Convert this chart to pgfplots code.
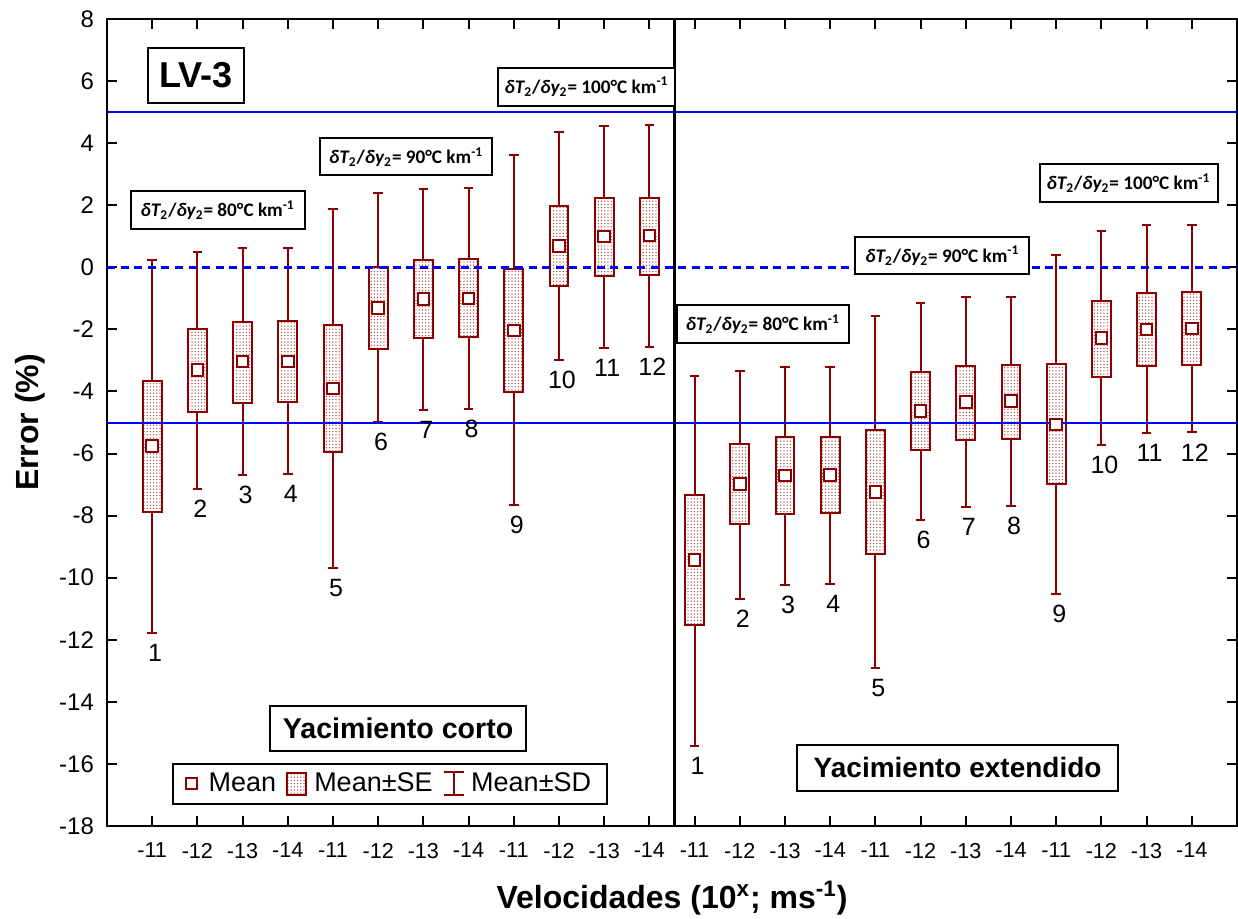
\documentclass[border=0pt]{standalone}
\usepackage{fontspec}
\setmainfont{Liberation Sans}
\newfontfamily\calib{Carlito}
\usepackage{pgfplots}
\pgfplotsset{compat=1.18}
\usepgfplotslibrary{statistics}
\usetikzlibrary{patterns.meta}
\definecolor{dred}{HTML}{8B0000}
\definecolor{pblue}{HTML}{0000FF}
\tikzdeclarepattern{
  name=fdots,
  type=uncolored,
  bounding box={(-0.5pt,-0.5pt) and (0.5pt,0.5pt)},
  tile size={(1.6pt,1.6pt)},
  code={\pgfpathcircle{\pgfpointorigin}{0.33pt}\pgfusepath{fill}}
}
\newcommand{\bx}[6]{\addplot[dred, line width=1pt, boxplot prepared={draw position=#1, lower whisker=#2, lower quartile=#3, median=#4, upper quartile=#5, upper whisker=#6}] coordinates {};}
\newcommand{\lab}[3]{\node[font=\fontsize{12.5}{14}\selectfont, xshift=1.5pt, yshift=-10pt] at (axis cs:#1,#2) {#3};}
\newcommand{\grad}[1]{\calib\bfseries\fontsize{9.6}{11}\selectfont{\itshape δT}\textsubscript{2}/{\itshape δy}\textsubscript{2}= #1°C km\textsuperscript{-1}}
\begin{document}
\begin{tikzpicture}
\begin{axis}[
  scale only axis, width=565pt, height=403.5pt,
  xmin=0, xmax=25, ymin=-18, ymax=8,
  xtick={1,...,24},
  xticklabels={-11,-12,-13,-14,-11,-12,-13,-14,-11,-12,-13,-14,-11,-12,-13,-14,-11,-12,-13,-14,-11,-12,-13,-14},
  ytick={-18,-16,...,8},
  tick align=inside, major tick length=5pt,
  tick style={black, line width=1pt},
  axis line style={line width=1pt},
  /pgf/number format/assume math mode=true,
  xticklabel style={font=\fontsize{10.8}{12}\selectfont, yshift=-5pt},
  yticklabel style={font=\fontsize{12}{14}\selectfont, xshift=-3pt},
  xlabel={\textbf{Velocidades (10\textsuperscript{x}; ms\textsuperscript{-1})}},
  ylabel={\textbf{Error (\%)}},
  xlabel style={font=\fontsize{16}{18}\selectfont, at={(axis description cs:0.5,0)}, anchor=center, yshift=-36pt},
  ylabel style={font=\fontsize{16}{18}\selectfont, at={(axis description cs:0,0.5)}, anchor=center, yshift=38.5pt},
  boxplot/draw direction=y,
  boxplot/box extend=0.42,
  boxplot/whisker extend=0.21,
  boxplot/draw/median/.code={},
  boxplot/every box/.style={draw=dred, line width=1pt, pattern=fdots, pattern color=dred!80},
  boxplot/every whisker/.style={dred, line width=1pt},
  legend columns=3,
  legend cell align=left,
  legend style={at={(axis cs:6.26,-16.64)}, anchor=center, draw=black, line width=1pt,
    font=\fontsize{13.5}{15}\selectfont, inner xsep=6pt, inner ysep=2.5pt,
    /tikz/every even column/.append style={column sep=3pt}},
]
\addlegendimage{legend image code/.code={\draw[dred, line width=0.9pt, fill=white] (0pt,-2.8pt) rectangle (5.6pt,2.8pt); \path (9pt,0pt);}}
\addlegendentry{Mean}
\addlegendimage{legend image code/.code={\draw[dred, line width=1pt, pattern=fdots, pattern color=dred!80] (0pt,-5.4pt) rectangle (9.4pt,5.4pt); \path (11pt,0pt);}}
\addlegendentry{Mean±SE}
\addlegendimage{legend image code/.code={\draw[dred, line width=1pt] (0pt,5.8pt) -- (10pt,5.8pt) (5pt,5.8pt) -- (5pt,-5.8pt) (0pt,-5.8pt) -- (10pt,-5.8pt); \path (11.3pt,0pt);}}
\addlegendentry{Mean±SD}
% short reservoir
\bx{1}{-11.78}{-7.88}{-5.75}{-3.66}{0.24}
\bx{2}{-7.14}{-4.66}{-3.31}{-1.99}{0.50}
\bx{3}{-6.69}{-4.36}{-3.04}{-1.77}{0.61}
\bx{4}{-6.66}{-4.33}{-3.04}{-1.73}{0.61}
\bx{5}{-9.69}{-5.95}{-3.90}{-1.87}{1.87}
\bx{6}{-4.97}{-2.64}{-1.32}{0.00}{2.40}
\bx{7}{-4.59}{-2.29}{-1.03}{0.24}{2.53}
\bx{8}{-4.55}{-2.26}{-1.00}{0.27}{2.57}
\bx{9}{-7.66}{-4.01}{-2.04}{-0.04}{3.61}
\bx{10}{-2.99}{-0.59}{0.69}{1.98}{4.35}
\bx{11}{-2.60}{-0.29}{0.99}{2.24}{4.56}
\bx{12}{-2.56}{-0.26}{1.03}{2.24}{4.60}
% extended reservoir
\bx{13}{-15.42}{-11.53}{-9.43}{-7.35}{-3.50}
\bx{14}{-10.68}{-8.28}{-6.99}{-5.69}{-3.33}
\bx{15}{-10.24}{-7.96}{-6.71}{-5.48}{-3.22}
\bx{16}{-10.20}{-7.93}{-6.69}{-5.46}{-3.22}
\bx{17}{-12.92}{-9.25}{-7.24}{-5.25}{-1.56}
\bx{18}{-8.14}{-5.88}{-4.62}{-3.38}{-1.15}
\bx{19}{-7.73}{-5.56}{-4.34}{-3.18}{-0.97}
\bx{20}{-7.70}{-5.53}{-4.30}{-3.15}{-0.96}
\bx{21}{-10.51}{-6.99}{-5.06}{-3.10}{0.40}
\bx{22}{-5.73}{-3.52}{-2.27}{-1.09}{1.17}
\bx{23}{-5.35}{-3.18}{-2.00}{-0.82}{1.35}
\bx{24}{-5.32}{-3.14}{-1.97}{-0.78}{1.35}
% reference lines
\addplot[pblue, line width=1pt] coordinates {(0,5) (25,5)};
\addplot[pblue, line width=1pt] coordinates {(0,-5) (25,-5)};
\addplot[pblue, line width=1.5pt, dash pattern=on 4pt off 2.8pt] coordinates {(0,0) (25,0)};
\addplot[black, line width=1.5pt] coordinates {(12.55,-18) (12.55,8)};
% means
\addplot[only marks, mark=square*, mark size=2.9pt, mark options={draw=dred, fill=white, line width=1pt}] coordinates {
(1,-5.75) (2,-3.31) (3,-3.04) (4,-3.04) (5,-3.90) (6,-1.32) (7,-1.03) (8,-1.00) (9,-2.04) (10,0.69) (11,0.99) (12,1.03)
(13,-9.43) (14,-6.99) (15,-6.71) (16,-6.69) (17,-7.24) (18,-4.62) (19,-4.34) (20,-4.30) (21,-5.06) (22,-2.27) (23,-2.00) (24,-1.97)};
% labels
\lab{1}{-11.78}{1}\lab{2}{-7.14}{2}\lab{3}{-6.69}{3}\lab{4}{-6.66}{4}
\lab{5}{-9.69}{5}\lab{6}{-4.97}{6}\lab{7}{-4.59}{7}\lab{8}{-4.55}{8}
\lab{9}{-7.66}{9}\lab{10}{-2.99}{10}\lab{11}{-2.60}{11}\lab{12}{-2.56}{12}
\lab{13}{-15.42}{1}\lab{14}{-10.68}{2}\lab{15}{-10.24}{3}\lab{16}{-10.20}{4}
\lab{17}{-12.92}{5}\lab{18}{-8.14}{6}\lab{19}{-7.73}{7}\lab{20}{-7.70}{8}
\lab{21}{-10.51}{9}\lab{22}{-5.73}{10}\lab{23}{-5.35}{11}\lab{24}{-5.32}{12}
% annotation boxes
\node[draw, line width=1pt, fill=white, minimum width=48pt, minimum height=27.5pt, inner sep=1pt, font=\bfseries\fontsize{18}{20}\selectfont] at (axis cs:1.97,6.19) {LV-3};
\node[draw, line width=1pt, fill=white, minimum width=87pt, minimum height=19pt, inner sep=1pt] at (axis cs:2.45,1.85) {\grad{80}};
\node[draw, line width=1pt, fill=white, minimum width=86pt, minimum height=18.5pt, inner sep=1pt] at (axis cs:6.62,3.56) {\grad{90}};
\node[draw, line width=1pt, fill=white, minimum width=88.5pt, minimum height=19pt, inner sep=1pt] at (axis cs:10.61,5.82) {\grad{100}};
\node[draw, line width=1pt, fill=white, minimum width=86pt, minimum height=18.8pt, inner sep=1pt] at (axis cs:14.51,-1.82) {\grad{80}};
\node[draw, line width=1pt, fill=white, minimum width=87pt, minimum height=18.8pt, inner sep=1pt] at (axis cs:18.48,0.38) {\grad{90}};
\node[draw, line width=1pt, fill=white, minimum width=89pt, minimum height=19pt, inner sep=1pt] at (axis cs:22.60,2.72) {\grad{100}};
\node[draw, line width=1pt, fill=white, minimum width=127.6pt, minimum height=22.4pt, inner sep=1pt, font=\bfseries\fontsize{14.3}{16}\selectfont] at (axis cs:6.44,-14.85) {Yacimiento corto};
\node[draw, line width=1pt, fill=white, minimum width=160.4pt, minimum height=22.7pt, inner sep=1pt, font=\bfseries\fontsize{14}{16}\selectfont] at (axis cs:18.82,-16.13) {Yacimiento extendido};
\end{axis}
\pgfresetboundingbox
\path (-53.5pt,-46pt) rectangle (565.5pt,413pt);
\end{tikzpicture}
\end{document}
